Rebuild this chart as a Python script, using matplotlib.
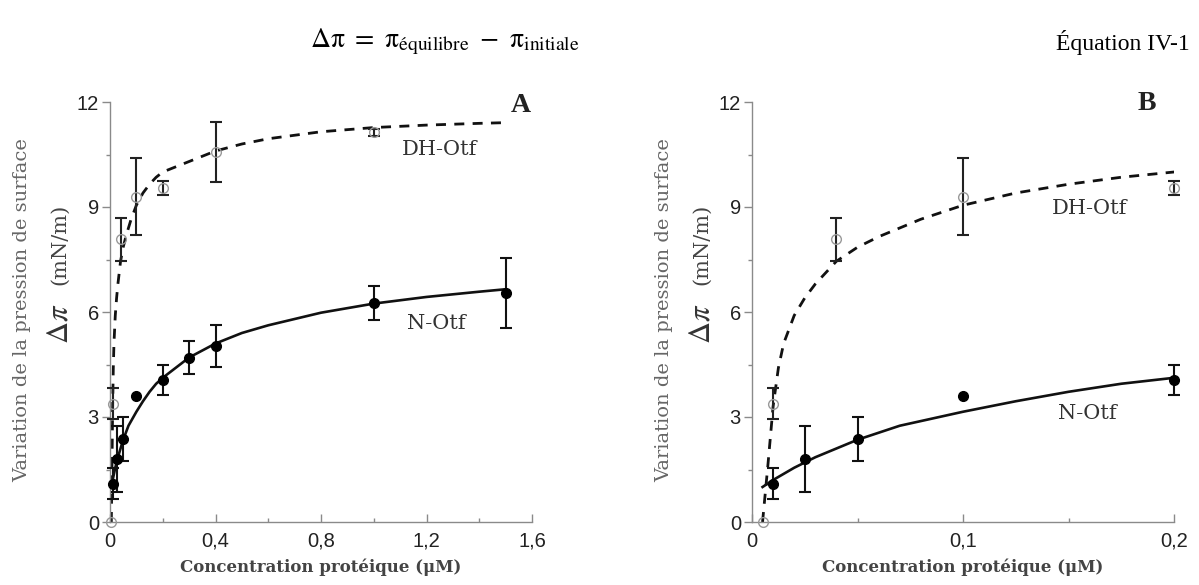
import numpy as np
import matplotlib
matplotlib.use("Agg")
import matplotlib.pyplot as plt
from matplotlib.ticker import FixedLocator

### données
# N-Otf (cercles pleins)
n_x = [0.01, 0.025, 0.05, 0.1, 0.2, 0.3, 0.4, 1.0, 1.5]
n_y = [1.1, 1.8, 2.38, 3.6, 4.07, 4.7, 5.03, 6.25, 6.55]
n_err = [0.45, 0.95, 0.63, np.nan, 0.43, 0.48, 0.6, 0.49, 1.0]

# DH-Otf (cercles vides)
dh_x = [0.005, 0.01, 0.04, 0.1, 0.2, 0.4, 1.0]
dh_y = [0.0, 3.38, 8.08, 9.3, 9.55, 10.57, 11.14]
dh_err = [np.nan, 0.45, 0.62, 1.09, 0.2, 0.86, 0.1]

# courbes d'ajustement
fit_n_x = [0.005, 0.01, 0.02, 0.03, 0.04, 0.05, 0.07, 0.1, 0.125, 0.15, 0.175,
           0.2, 0.3, 0.4, 0.5, 0.6, 0.8, 1.0, 1.2, 1.4, 1.5]
fit_n_y = [1.0, 1.2, 1.55, 1.85, 2.1, 2.35, 2.75, 3.15, 3.45, 3.72, 3.95,
           4.12, 4.7, 5.1, 5.4, 5.62, 5.98, 6.24, 6.43, 6.58, 6.65]
fit_dh_x = [0.005, 0.0075, 0.01, 0.0125, 0.015, 0.02, 0.025, 0.03, 0.04, 0.05,
            0.06, 0.08, 0.1, 0.125, 0.15, 0.175, 0.2, 0.25, 0.3, 0.4, 0.5,
            0.6, 0.8, 1.0, 1.2, 1.4, 1.5]
fit_dh_y = [0.0, 1.6, 3.3, 4.4, 5.1, 5.9, 6.4, 6.8, 7.45, 7.85,
            8.15, 8.65, 9.05, 9.4, 9.65, 9.85, 10.0, 10.15, 10.3, 10.6, 10.8,
            10.95, 11.15, 11.27, 11.34, 11.39, 11.41]

y_ticks = [0, 3, 6, 9, 12]
y_minor = [1.5, 4.5, 7.5, 10.5]

# réglages des deux panneaux
panels = {
    "A": dict(xmax=1.6, major=[0, 0.4, 0.8, 1.2, 1.6], minor=[0.2, 0.6, 1.0, 1.4],
              labels=["0", "0,4", "0,8", "1,2", "1,6"],
              dh_pos=(1.25, 10.63), n_pos=(1.236, 5.67), letter_pos=(1.557, 11.9)),
    "B": dict(xmax=0.2, major=[0, 0.1, 0.2], minor=[0.05, 0.15],
              labels=["0", "0,1", "0,2"],
              dh_pos=(0.16, 8.95), n_pos=(0.159, 3.1), letter_pos=(0.187, 11.97)),
}

plt.rcParams["font.family"] = ["Liberation Sans", "DejaVu Sans"]
plt.rcParams["mathtext.fontset"] = "stix"

fig = plt.figure(figsize=(11.99, 5.85), dpi=100)
SERIF = "DejaVu Serif"
GRIS = "#8a8a8a"

# équation en haut
fig.text(0.2585, 0.928,
         r"$\mathrm{\Delta π\ =\ π_{équilibre}\ -\ π_{initiale}}$",
         fontsize=20, ha="left", va="center")
fig.text(0.9925, 0.928, "Équation IV-1", family="Liberation Serif", fontsize=17,
         ha="right", va="center")

lefts = {"A": 110 / 1199, "B": 752 / 1199}
for name, p in panels.items():
    ax = fig.add_axes([lefts[name], 63 / 585, 422 / 1199, 420 / 585])
    ax.set_xlim(0, p["xmax"])
    ax.set_ylim(0, 12)

    # courbes
    ax.plot(fit_dh_x, fit_dh_y, color="#111", lw=2.0, ls=(0, (3.6, 3.0)), zorder=2)
    ax.plot(fit_n_x, fit_n_y, color="#111", lw=1.9, zorder=2)

    # barres d'erreur
    ne = np.array(n_err)
    m = ~np.isnan(ne)
    ax.errorbar(np.array(n_x)[m], np.array(n_y)[m], yerr=ne[m], fmt="none",
                ecolor="#111", elinewidth=1.5, capsize=4, capthick=1.5, zorder=3,
                clip_on=False)
    de = np.array(dh_err)
    m = ~np.isnan(de)
    ax.errorbar(np.array(dh_x)[m], np.array(dh_y)[m], yerr=de[m], fmt="none",
                ecolor="#222", elinewidth=1.5, capsize=4, capthick=1.5, zorder=3,
                clip_on=False)

    # points
    ax.plot(n_x, n_y, "o", color="#000", ms=7, zorder=4, clip_on=False)
    ax.plot(dh_x, dh_y, "o", mfc="none", mec="#999", mew=1.0, ms=7, zorder=4,
            clip_on=False)

    # axes
    for s in ["top", "right"]:
        ax.spines[s].set_visible(False)
    for s in ["left", "bottom"]:
        ax.spines[s].set_color(GRIS)
        ax.spines[s].set_linewidth(1.0)
    ax.xaxis.set_major_locator(FixedLocator(p["major"]))
    ax.xaxis.set_minor_locator(FixedLocator(p["minor"]))
    ax.set_xticklabels(p["labels"])
    ax.yaxis.set_major_locator(FixedLocator(y_ticks))
    ax.yaxis.set_minor_locator(FixedLocator(y_minor))
    ax.set_yticklabels([str(v) for v in y_ticks])
    ax.tick_params(axis="x", which="major", direction="in", length=6, width=1,
                   color=GRIS, pad=7, labelsize=14.5, labelcolor="#222")
    ax.tick_params(axis="x", which="minor", direction="in", length=3, width=1,
                   color=GRIS)
    ax.tick_params(axis="y", which="major", direction="out", length=6, width=1,
                   color=GRIS, pad=2, labelsize=14.5, labelcolor="#222")
    ax.tick_params(axis="y", which="minor", direction="out", length=3, width=1,
                   color=GRIS)

    # titres des axes
    ax.text(-0.2085, 0.505, "Variation de la pression de surface", family=SERIF,
            fontsize=14, color="#666", rotation=90, ha="center", va="center",
            transform=ax.transAxes)
    ax.text(-0.1185, 0.471, r"$\Delta\pi$", fontsize=22, color="#333",
            rotation=90, ha="center", va="center", transform=ax.transAxes)
    ax.text(-0.1185, 0.662, "(mN/m)", family=SERIF, fontsize=15, color="#444",
            rotation=90, ha="center", va="center", transform=ax.transAxes)
    ax.text(0.5, -0.107, "Concentration protéique (μM)", family=SERIF,
            fontsize=12, fontweight="bold", color="#444", ha="center", va="center",
            transform=ax.transAxes)

    # étiquettes des séries
    ax.text(*p["dh_pos"], "DH-Otf", family=SERIF, fontsize=15, color="#333",
            ha="center", va="center")
    ax.text(*p["n_pos"], "N-Otf", family=SERIF, fontsize=15, color="#333",
            ha="center", va="center")
    ax.text(*p["letter_pos"], name, family="Liberation Serif", fontsize=20,
            fontweight="bold", color="#222", ha="center", va="center")

fig.savefig("out.png", dpi=100)
